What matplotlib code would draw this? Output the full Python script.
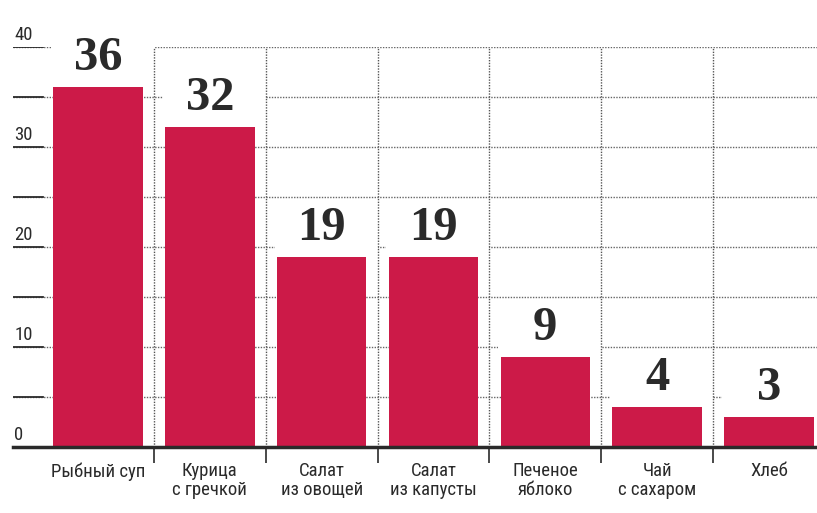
import matplotlib.pyplot as plt
from matplotlib import font_manager

# данные
categories = ["Рыбный суп", "Курица\nс гречкой", "Салат\nиз овощей", "Салат\nиз капусты",
              "Печеное\nяблоко", "Чай\nс сахаром", "Хлеб"]
values = [36, 32, 19, 19, 9, 4, 3]
y_labels = [0, 10, 20, 30, 40]
grid_levels = [5, 10, 15, 20, 25, 30, 35, 40]

names = {f.name for f in font_manager.fontManager.ttflist}
narrow = [f for f in ['Liberation Sans Narrow', 'Roboto Condensed', 'DejaVu Sans Condensed', 'DejaVu Sans'] if f in names][0]
serif = 'Liberation Serif' if 'Liberation Serif' in names else 'DejaVu Serif'

bar_color = '#cc1a48'
dark = '#2a2a2a'

fig = plt.figure(figsize=(8.17, 5.13), dpi=100)
ax = fig.add_axes([13 / 817, 66 / 513, 1 - 13 / 817, 400 / 513])

x = list(range(len(values)))
ax.set_xlim(-0.76, len(values) - 0.57)
ax.set_ylim(0, 40)

# пунктирная сетка
for lv in grid_levels:
    ax.axhline(lv, color='#666', lw=1, ls=(0, (1, 1)), zorder=1)
    ax.axhline(lv, xmin=0, xmax=30 / 804, color=dark, lw=1.3, zorder=1)

# белые подложки под подписями
ax.bar([i - 0.42 for i in x], [5.0] * len(values), bottom=values, width=0.92,
       align='edge', color='white', zorder=2)

# вертикальные разделители
seps = [i + 0.5 for i in x[:-1]]
ax.vlines(seps, 0, 40, color='#555', lw=1, ls=(0, (1, 1)), zorder=3)

ax.bar(x, values, width=0.8, color=bar_color, zorder=3)

for i, v in zip(x, values):
    ax.annotate(str(v), (i, v), xytext=(0, 12), textcoords='offset points',
                ha='center', va='baseline', fontsize=35, fontweight='bold',
                family=serif, color=dark, zorder=5)

# подписи оси Y над линиями
for lv in y_labels:
    ax.annotate(str(lv), (0, lv), xycoords=('axes fraction', 'data'),
                xytext=(1, 5), textcoords='offset points', ha='left', va='baseline',
                fontsize=13.5, family=narrow, color=dark)

for s in ['top', 'right', 'left']:
    ax.spines[s].set_visible(False)
ax.spines['bottom'].set_linewidth(2.5)
ax.spines['bottom'].set_color(dark)
ax.spines['bottom'].set_zorder(6)

ax.set_yticks([])
ax.set_xticks(x)
ax.set_xticklabels(categories, fontsize=13.5, family=narrow, color=dark, linespacing=1.05)
ax.set_xticks(seps, minor=True)
ax.tick_params(axis='x', which='major', length=0, pad=11)
ax.tick_params(axis='x', which='minor', length=11.5, width=1.2, color=dark, direction='out')

fig.savefig('out.png', dpi=100)
